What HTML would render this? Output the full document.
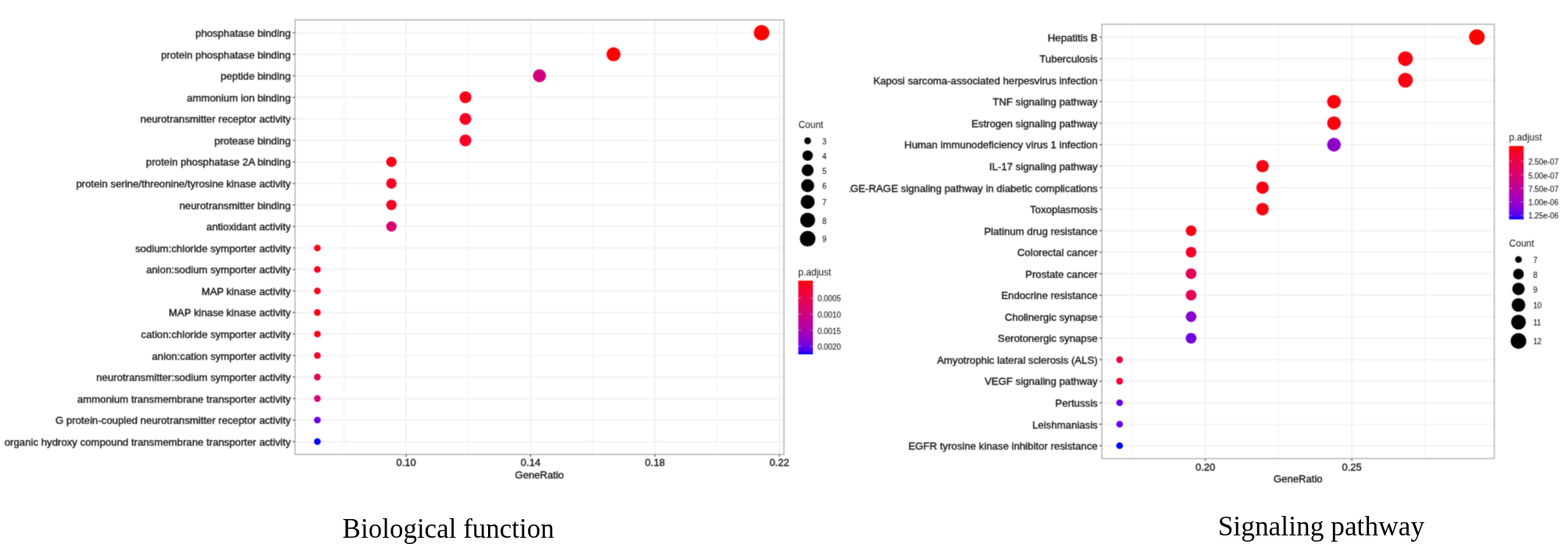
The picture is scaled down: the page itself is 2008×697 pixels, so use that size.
<!DOCTYPE html>
<html><head><meta charset="utf-8"><title>GO and KEGG enrichment dot plots</title>
<style>
html,body{margin:0;padding:0;background:#fff;}
body{width:2008px;height:697px;overflow:hidden;position:relative;}
svg{position:absolute;left:0;top:0;display:block;font-family:"Liberation Sans", Arial, sans-serif;}
.cap{font-family:"Liberation Serif", "Times New Roman", serif;}
.t{stroke:#111111;stroke-width:0.35px;}
.tl{stroke:#111111;stroke-width:0.1px;}
</style></head><body>
<svg width="2008" height="697" viewBox="0 0 2008 697">
<defs><filter id="bl" filterUnits="userSpaceOnUse" x="0" y="0" width="2008" height="697" color-interpolation-filters="sRGB"><feConvolveMatrix order="3" kernelMatrix="0.0277 0.1110 0.0277 0.1110 0.4452 0.1110 0.0277 0.1110 0.0277" divisor="1" edgeMode="duplicate"/></filter></defs>
<rect width="2008" height="697" fill="#fff"/>
<g filter="url(#bl)">
<g id="left">
<line x1="440.56" y1="25.5" x2="440.56" y2="582.3" stroke="#F7F7F7" stroke-width="1.6"/>
<line x1="599.84" y1="25.5" x2="599.84" y2="582.3" stroke="#F7F7F7" stroke-width="1.6"/>
<line x1="759.12" y1="25.5" x2="759.12" y2="582.3" stroke="#F7F7F7" stroke-width="1.6"/>
<line x1="918.4" y1="25.5" x2="918.4" y2="582.3" stroke="#F7F7F7" stroke-width="1.6"/>
<line x1="520.2" y1="25.5" x2="520.2" y2="582.3" stroke="#F1F1F1" stroke-width="1.7"/>
<line x1="679.48" y1="25.5" x2="679.48" y2="582.3" stroke="#F1F1F1" stroke-width="1.7"/>
<line x1="838.76" y1="25.5" x2="838.76" y2="582.3" stroke="#F1F1F1" stroke-width="1.7"/>
<line x1="998.04" y1="25.5" x2="998.04" y2="582.3" stroke="#F1F1F1" stroke-width="1.7"/>
<line x1="377.8" y1="42" x2="1003.9" y2="42" stroke="#F1F1F1" stroke-width="1.7"/>
<line x1="377.8" y1="69.57" x2="1003.9" y2="69.57" stroke="#F1F1F1" stroke-width="1.7"/>
<line x1="377.8" y1="97.14" x2="1003.9" y2="97.14" stroke="#F1F1F1" stroke-width="1.7"/>
<line x1="377.8" y1="124.7" x2="1003.9" y2="124.7" stroke="#F1F1F1" stroke-width="1.7"/>
<line x1="377.8" y1="152.27" x2="1003.9" y2="152.27" stroke="#F1F1F1" stroke-width="1.7"/>
<line x1="377.8" y1="179.84" x2="1003.9" y2="179.84" stroke="#F1F1F1" stroke-width="1.7"/>
<line x1="377.8" y1="207.41" x2="1003.9" y2="207.41" stroke="#F1F1F1" stroke-width="1.7"/>
<line x1="377.8" y1="234.98" x2="1003.9" y2="234.98" stroke="#F1F1F1" stroke-width="1.7"/>
<line x1="377.8" y1="262.54" x2="1003.9" y2="262.54" stroke="#F1F1F1" stroke-width="1.7"/>
<line x1="377.8" y1="290.11" x2="1003.9" y2="290.11" stroke="#F1F1F1" stroke-width="1.7"/>
<line x1="377.8" y1="317.68" x2="1003.9" y2="317.68" stroke="#F1F1F1" stroke-width="1.7"/>
<line x1="377.8" y1="345.25" x2="1003.9" y2="345.25" stroke="#F1F1F1" stroke-width="1.7"/>
<line x1="377.8" y1="372.82" x2="1003.9" y2="372.82" stroke="#F1F1F1" stroke-width="1.7"/>
<line x1="377.8" y1="400.38" x2="1003.9" y2="400.38" stroke="#F1F1F1" stroke-width="1.7"/>
<line x1="377.8" y1="427.95" x2="1003.9" y2="427.95" stroke="#F1F1F1" stroke-width="1.7"/>
<line x1="377.8" y1="455.52" x2="1003.9" y2="455.52" stroke="#F1F1F1" stroke-width="1.7"/>
<line x1="377.8" y1="483.09" x2="1003.9" y2="483.09" stroke="#F1F1F1" stroke-width="1.7"/>
<line x1="377.8" y1="510.66" x2="1003.9" y2="510.66" stroke="#F1F1F1" stroke-width="1.7"/>
<line x1="377.8" y1="538.22" x2="1003.9" y2="538.22" stroke="#F1F1F1" stroke-width="1.7"/>
<line x1="377.8" y1="565.79" x2="1003.9" y2="565.79" stroke="#F1F1F1" stroke-width="1.7"/>
<circle cx="975.29" cy="42" r="10.05" fill="#FF0000"/>
<circle cx="785.67" cy="69.57" r="8.99" fill="#FF0000"/>
<circle cx="690.86" cy="97.14" r="8.37" fill="#D1007D"/>
<circle cx="596.05" cy="124.7" r="7.62" fill="#FC0016"/>
<circle cx="596.05" cy="152.27" r="7.62" fill="#F80024"/>
<circle cx="596.05" cy="179.84" r="7.62" fill="#F80024"/>
<circle cx="501.24" cy="207.41" r="6.65" fill="#FC0012"/>
<circle cx="501.24" cy="234.98" r="6.65" fill="#F80024"/>
<circle cx="501.24" cy="262.54" r="6.65" fill="#F80024"/>
<circle cx="501.24" cy="290.11" r="6.65" fill="#DB006B"/>
<circle cx="406.43" cy="317.68" r="4.3" fill="#FB001A"/>
<circle cx="406.43" cy="345.25" r="4.3" fill="#FB001A"/>
<circle cx="406.43" cy="372.82" r="4.3" fill="#FB001A"/>
<circle cx="406.43" cy="400.38" r="4.3" fill="#FB001A"/>
<circle cx="406.43" cy="427.95" r="4.3" fill="#FB001A"/>
<circle cx="406.43" cy="455.52" r="4.3" fill="#F6002A"/>
<circle cx="406.43" cy="483.09" r="4.3" fill="#E60054"/>
<circle cx="406.43" cy="510.66" r="4.3" fill="#D70072"/>
<circle cx="406.43" cy="538.22" r="4.3" fill="#6800E7"/>
<circle cx="406.43" cy="565.79" r="4.3" fill="#0000FF"/>
<rect x="377.8" y="25.5" width="626.1" height="556.8" fill="none" stroke="#B4B4B4" stroke-width="1.5"/>
<line x1="374.8" y1="42" x2="377.8" y2="42" stroke="#333" stroke-width="1"/>
<text class="t" x="372.3" y="47.05" text-anchor="end" font-size="13.22" fill="#111111">phosphatase binding</text>
<line x1="374.8" y1="69.57" x2="377.8" y2="69.57" stroke="#333" stroke-width="1"/>
<text class="t" x="372.3" y="74.62" text-anchor="end" font-size="13.22" fill="#111111">protein phosphatase binding</text>
<line x1="374.8" y1="97.14" x2="377.8" y2="97.14" stroke="#333" stroke-width="1"/>
<text class="t" x="372.3" y="102.19" text-anchor="end" font-size="13.22" fill="#111111">peptide binding</text>
<line x1="374.8" y1="124.7" x2="377.8" y2="124.7" stroke="#333" stroke-width="1"/>
<text class="t" x="372.3" y="129.75" text-anchor="end" font-size="13.22" fill="#111111">ammonium ion binding</text>
<line x1="374.8" y1="152.27" x2="377.8" y2="152.27" stroke="#333" stroke-width="1"/>
<text class="t" x="372.3" y="157.32" text-anchor="end" font-size="13.22" fill="#111111">neurotransmitter receptor activity</text>
<line x1="374.8" y1="179.84" x2="377.8" y2="179.84" stroke="#333" stroke-width="1"/>
<text class="t" x="372.3" y="184.89" text-anchor="end" font-size="13.22" fill="#111111">protease binding</text>
<line x1="374.8" y1="207.41" x2="377.8" y2="207.41" stroke="#333" stroke-width="1"/>
<text class="t" x="372.3" y="212.46" text-anchor="end" font-size="13.22" fill="#111111">protein phosphatase 2A binding</text>
<line x1="374.8" y1="234.98" x2="377.8" y2="234.98" stroke="#333" stroke-width="1"/>
<text class="t" x="372.3" y="240.03" text-anchor="end" font-size="13.22" fill="#111111">protein serine/threonine/tyrosine kinase activity</text>
<line x1="374.8" y1="262.54" x2="377.8" y2="262.54" stroke="#333" stroke-width="1"/>
<text class="t" x="372.3" y="267.59" text-anchor="end" font-size="13.22" fill="#111111">neurotransmitter binding</text>
<line x1="374.8" y1="290.11" x2="377.8" y2="290.11" stroke="#333" stroke-width="1"/>
<text class="t" x="372.3" y="295.16" text-anchor="end" font-size="13.22" fill="#111111">antioxidant activity</text>
<line x1="374.8" y1="317.68" x2="377.8" y2="317.68" stroke="#333" stroke-width="1"/>
<text class="t" x="372.3" y="322.73" text-anchor="end" font-size="13.22" fill="#111111">sodium:chloride symporter activity</text>
<line x1="374.8" y1="345.25" x2="377.8" y2="345.25" stroke="#333" stroke-width="1"/>
<text class="t" x="372.3" y="350.3" text-anchor="end" font-size="13.22" fill="#111111">anion:sodium symporter activity</text>
<line x1="374.8" y1="372.82" x2="377.8" y2="372.82" stroke="#333" stroke-width="1"/>
<text class="t" x="372.3" y="377.87" text-anchor="end" font-size="13.22" fill="#111111">MAP kinase activity</text>
<line x1="374.8" y1="400.38" x2="377.8" y2="400.38" stroke="#333" stroke-width="1"/>
<text class="t" x="372.3" y="405.43" text-anchor="end" font-size="13.22" fill="#111111">MAP kinase kinase activity</text>
<line x1="374.8" y1="427.95" x2="377.8" y2="427.95" stroke="#333" stroke-width="1"/>
<text class="t" x="372.3" y="433" text-anchor="end" font-size="13.22" fill="#111111">cation:chloride symporter activity</text>
<line x1="374.8" y1="455.52" x2="377.8" y2="455.52" stroke="#333" stroke-width="1"/>
<text class="t" x="372.3" y="460.57" text-anchor="end" font-size="13.22" fill="#111111">anion:cation symporter activity</text>
<line x1="374.8" y1="483.09" x2="377.8" y2="483.09" stroke="#333" stroke-width="1"/>
<text class="t" x="372.3" y="488.14" text-anchor="end" font-size="13.22" fill="#111111">neurotransmitter:sodium symporter activity</text>
<line x1="374.8" y1="510.66" x2="377.8" y2="510.66" stroke="#333" stroke-width="1"/>
<text class="t" x="372.3" y="515.71" text-anchor="end" font-size="13.22" fill="#111111">ammonium transmembrane transporter activity</text>
<line x1="374.8" y1="538.22" x2="377.8" y2="538.22" stroke="#333" stroke-width="1"/>
<text class="t" x="372.3" y="543.27" text-anchor="end" font-size="13.22" fill="#111111">G protein-coupled neurotransmitter receptor activity</text>
<line x1="374.8" y1="565.79" x2="377.8" y2="565.79" stroke="#333" stroke-width="1"/>
<text class="t" x="372.3" y="570.84" text-anchor="end" font-size="13.22" fill="#111111">organic hydroxy compound transmembrane transporter activity</text>
<line x1="520.2" y1="582.3" x2="520.2" y2="585.3" stroke="#333" stroke-width="1"/>
<text class="t" x="520.2" y="596.9" text-anchor="middle" font-size="13" fill="#111111">0.10</text>
<line x1="679.48" y1="582.3" x2="679.48" y2="585.3" stroke="#333" stroke-width="1"/>
<text class="t" x="679.48" y="596.9" text-anchor="middle" font-size="13" fill="#111111">0.14</text>
<line x1="838.76" y1="582.3" x2="838.76" y2="585.3" stroke="#333" stroke-width="1"/>
<text class="t" x="838.76" y="596.9" text-anchor="middle" font-size="13" fill="#111111">0.18</text>
<line x1="998.04" y1="582.3" x2="998.04" y2="585.3" stroke="#333" stroke-width="1"/>
<text class="t" x="998.04" y="596.9" text-anchor="middle" font-size="13" fill="#111111">0.22</text>
<text class="t" x="690.85" y="612.8" text-anchor="middle" font-size="13.1" fill="#111111">GeneRatio</text>
<text x="1022.4" y="163.8" font-size="12" fill="#111111">Count</text>
<circle cx="1034.3" cy="180.4" r="4.3" fill="#000"/>
<text class="tl" transform="translate(1053,184.9) scale(1,1.12)" font-size="9.8" fill="#111111">3</text>
<circle cx="1034.3" cy="199.3" r="6.65" fill="#000"/>
<text class="tl" transform="translate(1053,203.8) scale(1,1.12)" font-size="9.8" fill="#111111">4</text>
<circle cx="1034.3" cy="218.2" r="7.62" fill="#000"/>
<text class="tl" transform="translate(1053,222.7) scale(1,1.12)" font-size="9.8" fill="#111111">5</text>
<circle cx="1034.3" cy="237.9" r="8.37" fill="#000"/>
<text class="tl" transform="translate(1053,242.4) scale(1,1.12)" font-size="9.8" fill="#111111">6</text>
<circle cx="1034.3" cy="258.7" r="8.99" fill="#000"/>
<text class="tl" transform="translate(1053,263.2) scale(1,1.12)" font-size="9.8" fill="#111111">7</text>
<circle cx="1034.3" cy="282" r="9.55" fill="#000"/>
<text class="tl" transform="translate(1053,286.5) scale(1,1.12)" font-size="9.8" fill="#111111">8</text>
<circle cx="1034.3" cy="305.8" r="10.05" fill="#000"/>
<text class="tl" transform="translate(1053,310.3) scale(1,1.12)" font-size="9.8" fill="#111111">9</text>
<defs><linearGradient id="gl" x1="0" y1="0" x2="0" y2="1"><stop offset="0.00" stop-color="#FF0000"/><stop offset="0.05" stop-color="#FB001A"/><stop offset="0.10" stop-color="#F6002A"/><stop offset="0.15" stop-color="#F20037"/><stop offset="0.20" stop-color="#ED0044"/><stop offset="0.25" stop-color="#E80050"/><stop offset="0.30" stop-color="#E3005B"/><stop offset="0.35" stop-color="#DD0066"/><stop offset="0.40" stop-color="#D70072"/><stop offset="0.45" stop-color="#D1007D"/><stop offset="0.50" stop-color="#CA0088"/><stop offset="0.55" stop-color="#C20094"/><stop offset="0.60" stop-color="#BA009F"/><stop offset="0.65" stop-color="#B000AB"/><stop offset="0.70" stop-color="#A600B7"/><stop offset="0.75" stop-color="#9A00C3"/><stop offset="0.80" stop-color="#8D00CE"/><stop offset="0.85" stop-color="#7C00DA"/><stop offset="0.90" stop-color="#6800E7"/><stop offset="0.95" stop-color="#4B00F3"/><stop offset="1.00" stop-color="#0000FF"/></linearGradient></defs>
<text x="1022.3" y="352.8" font-size="12" fill="#111111">p.adjust</text>
<rect x="1022.3" y="359.6" width="18.7" height="94.4" fill="url(#gl)"/>
<line x1="1022.3" y1="381.8" x2="1026.04" y2="381.8" stroke="#fff" stroke-width="1" opacity="0.45"/>
<line x1="1037.26" y1="381.8" x2="1041" y2="381.8" stroke="#fff" stroke-width="1" opacity="0.45"/>
<text class="tl" transform="translate(1046.9,386.3) scale(1,1.12)" font-size="9.8" fill="#111111">0.0005</text>
<line x1="1022.3" y1="402.4" x2="1026.04" y2="402.4" stroke="#fff" stroke-width="1" opacity="0.45"/>
<line x1="1037.26" y1="402.4" x2="1041" y2="402.4" stroke="#fff" stroke-width="1" opacity="0.45"/>
<text class="tl" transform="translate(1046.9,406.9) scale(1,1.12)" font-size="9.8" fill="#111111">0.0010</text>
<line x1="1022.3" y1="423" x2="1026.04" y2="423" stroke="#fff" stroke-width="1" opacity="0.45"/>
<line x1="1037.26" y1="423" x2="1041" y2="423" stroke="#fff" stroke-width="1" opacity="0.45"/>
<text class="tl" transform="translate(1046.9,427.5) scale(1,1.12)" font-size="9.8" fill="#111111">0.0015</text>
<line x1="1022.3" y1="443.7" x2="1026.04" y2="443.7" stroke="#fff" stroke-width="1" opacity="0.45"/>
<line x1="1037.26" y1="443.7" x2="1041" y2="443.7" stroke="#fff" stroke-width="1" opacity="0.45"/>
<text class="tl" transform="translate(1046.9,448.2) scale(1,1.12)" font-size="9.8" fill="#111111">0.0020</text>
</g>
<clipPath id="rc"><rect x="1088.6" y="0" width="920" height="697"/></clipPath>
<g id="right" clip-path="url(#rc)">
<line x1="1449.81" y1="31.1" x2="1449.81" y2="587.5" stroke="#F7F7F7" stroke-width="1.6"/>
<line x1="1637.39" y1="31.1" x2="1637.39" y2="587.5" stroke="#F7F7F7" stroke-width="1.6"/>
<line x1="1824.96" y1="31.1" x2="1824.96" y2="587.5" stroke="#F7F7F7" stroke-width="1.6"/>
<line x1="1543.6" y1="31.1" x2="1543.6" y2="587.5" stroke="#F1F1F1" stroke-width="1.7"/>
<line x1="1731.17" y1="31.1" x2="1731.17" y2="587.5" stroke="#F1F1F1" stroke-width="1.7"/>
<line x1="1411" y1="47.6" x2="1913.6" y2="47.6" stroke="#F1F1F1" stroke-width="1.7"/>
<line x1="1411" y1="75.15" x2="1913.6" y2="75.15" stroke="#F1F1F1" stroke-width="1.7"/>
<line x1="1411" y1="102.7" x2="1913.6" y2="102.7" stroke="#F1F1F1" stroke-width="1.7"/>
<line x1="1411" y1="130.25" x2="1913.6" y2="130.25" stroke="#F1F1F1" stroke-width="1.7"/>
<line x1="1411" y1="157.8" x2="1913.6" y2="157.8" stroke="#F1F1F1" stroke-width="1.7"/>
<line x1="1411" y1="185.35" x2="1913.6" y2="185.35" stroke="#F1F1F1" stroke-width="1.7"/>
<line x1="1411" y1="212.9" x2="1913.6" y2="212.9" stroke="#F1F1F1" stroke-width="1.7"/>
<line x1="1411" y1="240.45" x2="1913.6" y2="240.45" stroke="#F1F1F1" stroke-width="1.7"/>
<line x1="1411" y1="268" x2="1913.6" y2="268" stroke="#F1F1F1" stroke-width="1.7"/>
<line x1="1411" y1="295.55" x2="1913.6" y2="295.55" stroke="#F1F1F1" stroke-width="1.7"/>
<line x1="1411" y1="323.1" x2="1913.6" y2="323.1" stroke="#F1F1F1" stroke-width="1.7"/>
<line x1="1411" y1="350.65" x2="1913.6" y2="350.65" stroke="#F1F1F1" stroke-width="1.7"/>
<line x1="1411" y1="378.2" x2="1913.6" y2="378.2" stroke="#F1F1F1" stroke-width="1.7"/>
<line x1="1411" y1="405.75" x2="1913.6" y2="405.75" stroke="#F1F1F1" stroke-width="1.7"/>
<line x1="1411" y1="433.3" x2="1913.6" y2="433.3" stroke="#F1F1F1" stroke-width="1.7"/>
<line x1="1411" y1="460.85" x2="1913.6" y2="460.85" stroke="#F1F1F1" stroke-width="1.7"/>
<line x1="1411" y1="488.4" x2="1913.6" y2="488.4" stroke="#F1F1F1" stroke-width="1.7"/>
<line x1="1411" y1="515.95" x2="1913.6" y2="515.95" stroke="#F1F1F1" stroke-width="1.7"/>
<line x1="1411" y1="543.5" x2="1913.6" y2="543.5" stroke="#F1F1F1" stroke-width="1.7"/>
<line x1="1411" y1="571.05" x2="1913.6" y2="571.05" stroke="#F1F1F1" stroke-width="1.7"/>
<circle cx="1891.3" cy="47.6" r="10.1" fill="#FF0000"/>
<circle cx="1799.8" cy="75.15" r="9.49" fill="#FC0012"/>
<circle cx="1799.8" cy="102.7" r="9.49" fill="#FC0012"/>
<circle cx="1708.3" cy="130.25" r="8.79" fill="#FD000D"/>
<circle cx="1708.3" cy="157.8" r="8.79" fill="#FD000D"/>
<circle cx="1708.3" cy="185.35" r="8.79" fill="#8D00CE"/>
<circle cx="1616.8" cy="212.9" r="7.97" fill="#FC0012"/>
<circle cx="1616.8" cy="240.45" r="7.97" fill="#FC0012"/>
<circle cx="1616.8" cy="268" r="7.97" fill="#FC0012"/>
<circle cx="1525.3" cy="295.55" r="6.89" fill="#FC0012"/>
<circle cx="1525.3" cy="323.1" r="6.89" fill="#F70027"/>
<circle cx="1525.3" cy="350.65" r="6.89" fill="#E60054"/>
<circle cx="1525.3" cy="378.2" r="6.89" fill="#E60054"/>
<circle cx="1525.3" cy="405.75" r="6.89" fill="#8A00D1"/>
<circle cx="1525.3" cy="433.3" r="6.89" fill="#7100E2"/>
<circle cx="1433.8" cy="460.85" r="4.3" fill="#F30035"/>
<circle cx="1433.8" cy="488.4" r="4.3" fill="#F30035"/>
<circle cx="1433.8" cy="515.95" r="4.3" fill="#6800E7"/>
<circle cx="1433.8" cy="543.5" r="4.3" fill="#6800E7"/>
<circle cx="1433.8" cy="571.05" r="4.3" fill="#0000FF"/>
<rect x="1411" y="31.1" width="502.6" height="556.4" fill="none" stroke="#B4B4B4" stroke-width="1.5"/>
<line x1="1408" y1="47.6" x2="1411" y2="47.6" stroke="#333" stroke-width="1"/>
<text class="t" x="1405.7" y="52.65" text-anchor="end" font-size="13.22" fill="#111111">Hepatitis B</text>
<line x1="1408" y1="75.15" x2="1411" y2="75.15" stroke="#333" stroke-width="1"/>
<text class="t" x="1405.7" y="80.2" text-anchor="end" font-size="13.22" fill="#111111">Tuberculosis</text>
<line x1="1408" y1="102.7" x2="1411" y2="102.7" stroke="#333" stroke-width="1"/>
<text class="t" x="1405.7" y="107.75" text-anchor="end" font-size="13.22" fill="#111111">Kaposi sarcoma-associated herpesvirus infection</text>
<line x1="1408" y1="130.25" x2="1411" y2="130.25" stroke="#333" stroke-width="1"/>
<text class="t" x="1405.7" y="135.3" text-anchor="end" font-size="13.22" fill="#111111">TNF signaling pathway</text>
<line x1="1408" y1="157.8" x2="1411" y2="157.8" stroke="#333" stroke-width="1"/>
<text class="t" x="1405.7" y="162.85" text-anchor="end" font-size="13.22" fill="#111111">Estrogen signaling pathway</text>
<line x1="1408" y1="185.35" x2="1411" y2="185.35" stroke="#333" stroke-width="1"/>
<text class="t" x="1405.7" y="190.4" text-anchor="end" font-size="13.22" fill="#111111">Human immunodeficiency virus 1 infection</text>
<line x1="1408" y1="212.9" x2="1411" y2="212.9" stroke="#333" stroke-width="1"/>
<text class="t" x="1405.7" y="217.95" text-anchor="end" font-size="13.22" fill="#111111">IL-17 signaling pathway</text>
<line x1="1408" y1="240.45" x2="1411" y2="240.45" stroke="#333" stroke-width="1"/>
<text class="t" x="1405.7" y="245.5" text-anchor="end" font-size="13.22" fill="#111111">AGE-RAGE signaling pathway in diabetic complications</text>
<line x1="1408" y1="268" x2="1411" y2="268" stroke="#333" stroke-width="1"/>
<text class="t" x="1405.7" y="273.05" text-anchor="end" font-size="13.22" fill="#111111">Toxoplasmosis</text>
<line x1="1408" y1="295.55" x2="1411" y2="295.55" stroke="#333" stroke-width="1"/>
<text class="t" x="1405.7" y="300.6" text-anchor="end" font-size="13.22" fill="#111111">Platinum drug resistance</text>
<line x1="1408" y1="323.1" x2="1411" y2="323.1" stroke="#333" stroke-width="1"/>
<text class="t" x="1405.7" y="328.15" text-anchor="end" font-size="13.22" fill="#111111">Colorectal cancer</text>
<line x1="1408" y1="350.65" x2="1411" y2="350.65" stroke="#333" stroke-width="1"/>
<text class="t" x="1405.7" y="355.7" text-anchor="end" font-size="13.22" fill="#111111">Prostate cancer</text>
<line x1="1408" y1="378.2" x2="1411" y2="378.2" stroke="#333" stroke-width="1"/>
<text class="t" x="1405.7" y="383.25" text-anchor="end" font-size="13.22" fill="#111111">Endocrine resistance</text>
<line x1="1408" y1="405.75" x2="1411" y2="405.75" stroke="#333" stroke-width="1"/>
<text class="t" x="1405.7" y="410.8" text-anchor="end" font-size="13.22" fill="#111111">Cholinergic synapse</text>
<line x1="1408" y1="433.3" x2="1411" y2="433.3" stroke="#333" stroke-width="1"/>
<text class="t" x="1405.7" y="438.35" text-anchor="end" font-size="13.22" fill="#111111">Serotonergic synapse</text>
<line x1="1408" y1="460.85" x2="1411" y2="460.85" stroke="#333" stroke-width="1"/>
<text class="t" x="1405.7" y="465.9" text-anchor="end" font-size="13.22" fill="#111111">Amyotrophic lateral sclerosis (ALS)</text>
<line x1="1408" y1="488.4" x2="1411" y2="488.4" stroke="#333" stroke-width="1"/>
<text class="t" x="1405.7" y="493.45" text-anchor="end" font-size="13.22" fill="#111111">VEGF signaling pathway</text>
<line x1="1408" y1="515.95" x2="1411" y2="515.95" stroke="#333" stroke-width="1"/>
<text class="t" x="1405.7" y="521" text-anchor="end" font-size="13.22" fill="#111111">Pertussis</text>
<line x1="1408" y1="543.5" x2="1411" y2="543.5" stroke="#333" stroke-width="1"/>
<text class="t" x="1405.7" y="548.55" text-anchor="end" font-size="13.22" fill="#111111">Leishmaniasis</text>
<line x1="1408" y1="571.05" x2="1411" y2="571.05" stroke="#333" stroke-width="1"/>
<text class="t" x="1405.7" y="576.1" text-anchor="end" font-size="13.22" fill="#111111">EGFR tyrosine kinase inhibitor resistance</text>
<line x1="1543.6" y1="587.5" x2="1543.6" y2="590.5" stroke="#333" stroke-width="1"/>
<text class="t" x="1543.6" y="602.5" text-anchor="middle" font-size="13" fill="#111111">0.20</text>
<line x1="1731.17" y1="587.5" x2="1731.17" y2="590.5" stroke="#333" stroke-width="1"/>
<text class="t" x="1731.17" y="602.5" text-anchor="middle" font-size="13" fill="#111111">0.25</text>
<text class="t" x="1662.3" y="618.3" text-anchor="middle" font-size="13.1" fill="#111111">GeneRatio</text>
<text x="1932.6" y="316.1" font-size="12" fill="#111111">Count</text>
<circle cx="1944.6" cy="332.5" r="4.3" fill="#000"/>
<text class="tl" transform="translate(1963.4,337) scale(1,1.12)" font-size="9.8" fill="#111111">7</text>
<circle cx="1944.6" cy="351.1" r="6.89" fill="#000"/>
<text class="tl" transform="translate(1963.4,355.6) scale(1,1.12)" font-size="9.8" fill="#111111">8</text>
<circle cx="1944.6" cy="370.2" r="7.97" fill="#000"/>
<text class="tl" transform="translate(1963.4,374.7) scale(1,1.12)" font-size="9.8" fill="#111111">9</text>
<circle cx="1944.6" cy="390.8" r="8.79" fill="#000"/>
<text class="tl" transform="translate(1963.4,395.3) scale(1,1.12)" font-size="9.8" fill="#111111">10</text>
<circle cx="1944.6" cy="412.7" r="9.49" fill="#000"/>
<text class="tl" transform="translate(1963.4,417.2) scale(1,1.12)" font-size="9.8" fill="#111111">11</text>
<circle cx="1944.6" cy="436.9" r="10.1" fill="#000"/>
<text class="tl" transform="translate(1963.4,441.4) scale(1,1.12)" font-size="9.8" fill="#111111">12</text>
<defs><linearGradient id="gr" x1="0" y1="0" x2="0" y2="1"><stop offset="0.00" stop-color="#FF0000"/><stop offset="0.05" stop-color="#FB001A"/><stop offset="0.10" stop-color="#F6002A"/><stop offset="0.15" stop-color="#F20037"/><stop offset="0.20" stop-color="#ED0044"/><stop offset="0.25" stop-color="#E80050"/><stop offset="0.30" stop-color="#E3005B"/><stop offset="0.35" stop-color="#DD0066"/><stop offset="0.40" stop-color="#D70072"/><stop offset="0.45" stop-color="#D1007D"/><stop offset="0.50" stop-color="#CA0088"/><stop offset="0.55" stop-color="#C20094"/><stop offset="0.60" stop-color="#BA009F"/><stop offset="0.65" stop-color="#B000AB"/><stop offset="0.70" stop-color="#A600B7"/><stop offset="0.75" stop-color="#9A00C3"/><stop offset="0.80" stop-color="#8D00CE"/><stop offset="0.85" stop-color="#7C00DA"/><stop offset="0.90" stop-color="#6800E7"/><stop offset="0.95" stop-color="#4B00F3"/><stop offset="1.00" stop-color="#0000FF"/></linearGradient></defs>
<text x="1932.6" y="180.2" font-size="12" fill="#111111">p.adjust</text>
<rect x="1932.5" y="187.1" width="18.7" height="94" fill="url(#gr)"/>
<line x1="1932.5" y1="206.6" x2="1936.24" y2="206.6" stroke="#fff" stroke-width="1" opacity="0.45"/>
<line x1="1947.46" y1="206.6" x2="1951.2" y2="206.6" stroke="#fff" stroke-width="1" opacity="0.45"/>
<text class="tl" transform="translate(1957.2,211.1) scale(1,1.12)" font-size="9.8" fill="#111111">2.50e-07</text>
<line x1="1932.5" y1="224" x2="1936.24" y2="224" stroke="#fff" stroke-width="1" opacity="0.45"/>
<line x1="1947.46" y1="224" x2="1951.2" y2="224" stroke="#fff" stroke-width="1" opacity="0.45"/>
<text class="tl" transform="translate(1957.2,228.5) scale(1,1.12)" font-size="9.8" fill="#111111">5.00e-07</text>
<line x1="1932.5" y1="241.3" x2="1936.24" y2="241.3" stroke="#fff" stroke-width="1" opacity="0.45"/>
<line x1="1947.46" y1="241.3" x2="1951.2" y2="241.3" stroke="#fff" stroke-width="1" opacity="0.45"/>
<text class="tl" transform="translate(1957.2,245.8) scale(1,1.12)" font-size="9.8" fill="#111111">7.50e-07</text>
<line x1="1932.5" y1="258.6" x2="1936.24" y2="258.6" stroke="#fff" stroke-width="1" opacity="0.45"/>
<line x1="1947.46" y1="258.6" x2="1951.2" y2="258.6" stroke="#fff" stroke-width="1" opacity="0.45"/>
<text class="tl" transform="translate(1957.2,263.1) scale(1,1.12)" font-size="9.8" fill="#111111">1.00e-06</text>
<line x1="1932.5" y1="275.9" x2="1936.24" y2="275.9" stroke="#fff" stroke-width="1" opacity="0.45"/>
<line x1="1947.46" y1="275.9" x2="1951.2" y2="275.9" stroke="#fff" stroke-width="1" opacity="0.45"/>
<text class="tl" transform="translate(1957.2,280.4) scale(1,1.12)" font-size="9.8" fill="#111111">1.25e-06</text>
</g>
</g>
<text class="cap" x="438.6" y="689.4" font-size="35" fill="#000">Biological function</text>
<text class="cap" x="1559.7" y="685.6" font-size="35.4" fill="#000">Signaling pathway</text>
</svg>
</body></html>
